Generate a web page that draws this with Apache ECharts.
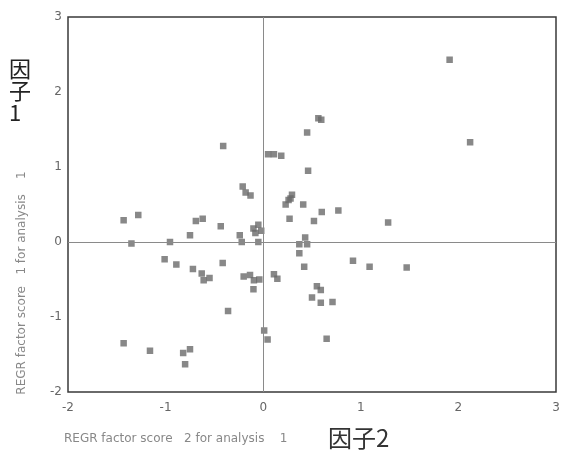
<!DOCTYPE html>
<html>
<head>
<meta charset="utf-8">
<script src="https://cdn.jsdelivr.net/npm/echarts@6/dist/echarts.min.js"></script>
<style>
  html, body { margin: 0; padding: 0; background: #fff; }
  #chart { width: 570px; height: 452px; }
</style>
</head>
<body>
<div id="chart"></div>
<script>
// REGR factor scores: factor 2 (horizontal) vs factor 1 (vertical)
const factor2Scores = [
  1.91, 2.12, 0.565, 0.595, 0.45, 0.05, 0.11, 0.185, -0.41, 0.46,
  -0.21, -0.18, -0.13, 0.295, 0.26, 0.23, 0.28, 0.41, 0.27, 0.52,
  0.60, 0.77, 1.28, -1.43, -1.28, -0.69, -0.62, -0.435, -0.75, -0.24,
  -1.35, -0.955, -0.22, -0.05, -0.10, -0.05, -0.02, -0.08, -1.01, -0.89,
  -0.72, -0.63, -0.61, -0.55, -0.415, -0.20, -0.135, -0.095, -0.10, -0.04,
  -0.36, -1.43, -1.16, -0.82, -0.75, -0.80, 0.01, 0.045, 0.11, 0.145,
  0.43, 0.37, 0.45, 0.37, 0.42, 0.92, 0.55, 0.59, 0.50, 0.59,
  0.71, 0.65, 1.09, 1.47
];
const factor1Scores = [
  2.43, 1.33, 1.65, 1.63, 1.46, 1.17, 1.17, 1.15, 1.28, 0.95,
  0.74, 0.66, 0.62, 0.63, 0.56, 0.50, 0.58, 0.50, 0.31, 0.28,
  0.40, 0.42, 0.26, 0.29, 0.36, 0.28, 0.31, 0.21, 0.09, 0.09,
  -0.02, 0.00, 0.00, 0.00, 0.18, 0.23, 0.15, 0.12, -0.23, -0.30,
  -0.36, -0.42, -0.51, -0.48, -0.28, -0.46, -0.44, -0.51, -0.63, -0.50,
  -0.92, -1.35, -1.45, -1.48, -1.43, -1.63, -1.18, -1.30, -0.43, -0.49,
  0.06, -0.03, -0.03, -0.15, -0.33, -0.25, -0.59, -0.64, -0.74, -0.81,
  -0.80, -1.29, -0.33, -0.34
];
const xTicks = [-2, -1, 0, 1, 2, 3];
const yTicks = [-2, -1, 0, 1, 2, 3];

const xTitle = 'REGR factor score   2 for analysis    1';
const yTitle = 'REGR factor score   1 for analysis    1';
const xFactorLabel = '因子2';
const yFactorLabel = '因\n子\n1';

const points = factor2Scores.map((x, i) => [x, factor1Scores[i]]);

const chart = echarts.init(document.getElementById('chart'), null, { renderer: 'canvas' });
const tickFont = { color: '#666', fontSize: 12, fontFamily: 'DejaVu Sans' };

chart.setOption({
  animation: false,
  backgroundColor: '#fff',
  grid: {
    left: 68, top: 17, right: 14, bottom: 60,
    show: true, borderColor: '#3a3a3a', borderWidth: 1.5, backgroundColor: 'transparent'
  },
  xAxis: {
    type: 'value',
    min: xTicks[0], max: xTicks[xTicks.length - 1], interval: 1,
    axisLine: { show: false },
    axisTick: { show: false },
    splitLine: { show: false },
    axisLabel: { ...tickFont, margin: 10 }
  },
  yAxis: {
    type: 'value',
    min: yTicks[0], max: yTicks[yTicks.length - 1], interval: 1,
    axisLine: { show: false },
    axisTick: { show: false },
    splitLine: { show: false },
    axisLabel: { ...tickFont, margin: 6 }
  },
  series: [{
    type: 'scatter',
    data: points,
    symbol: 'rect',
    symbolSize: 6.5,
    itemStyle: { color: '#6a6a6a' },
    markLine: {
      silent: true,
      symbol: 'none',
      label: { show: false },
      lineStyle: { color: '#8a8a8a', width: 1, type: 'solid' },
      data: [{ xAxis: 0 }, { yAxis: 0 }]
    }
  }],
  graphic: [
    {
      type: 'text', left: 9, top: 58,
      style: {
        text: yFactorLabel, fill: '#222', font: '22px "Noto Sans CJK JP"',
        lineHeight: 22, align: 'center'
      }
    },
    {
      type: 'text', x: 22, y: 283, rotation: Math.PI / 2,
      style: {
        text: yTitle, fill: '#888', font: '12px "DejaVu Sans"',
        align: 'center', verticalAlign: 'middle'
      }
    },
    {
      type: 'text', x: 64, y: 439,
      style: {
        text: xTitle, fill: '#888', font: '12px "DejaVu Sans"',
        verticalAlign: 'middle'
      }
    },
    {
      type: 'text', x: 328, y: 438,
      style: {
        text: xFactorLabel, fill: '#333', font: '24px "Noto Sans CJK JP"',
        verticalAlign: 'middle'
      }
    }
  ]
});
</script>
</body>
</html>
